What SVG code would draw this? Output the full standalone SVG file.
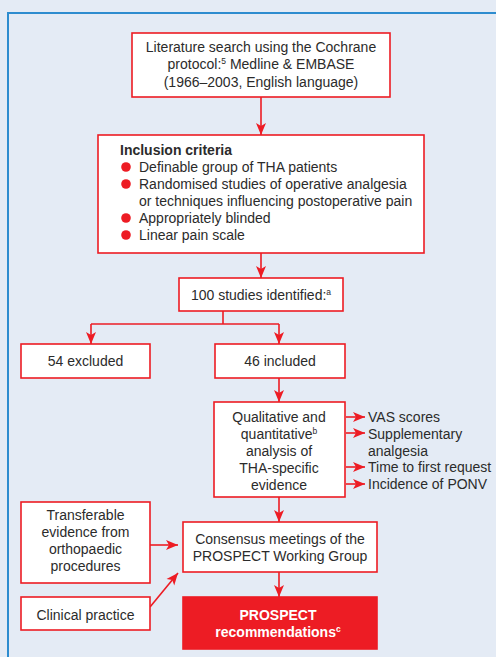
<svg xmlns="http://www.w3.org/2000/svg" width="496" height="657" viewBox="0 0 496 657">
<defs>
<style>
.bg{fill:#e4ebf5}
.frame{fill:none;stroke:#2d8ccf;stroke-width:2}
.box{fill:#ffffff;stroke:#ed1c24;stroke-width:1.6}
.boxr{fill:#ed1c24;stroke:#ed1c24;stroke-width:1.6}
.t{font-family:"Liberation Sans",Arial,sans-serif;font-size:14px;fill:#2b2b2b}
.c{text-anchor:middle}
.b{font-weight:bold}
.w{fill:#ffffff;font-weight:bold}
.sup{font-size:8.5px}
.ln{fill:none;stroke:#ed1c24;stroke-width:1.6}
.dot{fill:#ed1c24}
</style>
<marker id="ah" viewBox="0 0 12 10" refX="12" refY="5" markerWidth="12" markerHeight="11" markerUnits="userSpaceOnUse" orient="auto">
<path d="M0,0 L12,5 L0,10 L3,5 Z" fill="#ed1c24"/>
</marker>
</defs>
<rect class="bg" x="0" y="0" width="496" height="657"/>
<rect class="bg" x="8" y="13" width="490" height="650"/>
<path class="frame" d="M8,658 L8,13 L497,13"/>

<g id="connectors">
<path class="ln" d="M261,97 L261,135" marker-end="url(#ah)"/>
<path class="ln" d="M261,253 L261,278" marker-end="url(#ah)"/>
<path class="ln" d="M223,311 L223,324"/>
<path class="ln" d="M91,324 L279,324"/>
<path class="ln" d="M91,324 L91,344" marker-end="url(#ah)"/>
<path class="ln" d="M279,324 L279,344" marker-end="url(#ah)"/>
<path class="ln" d="M279,378 L279,402" marker-end="url(#ah)"/>
<path class="ln" d="M346,417 L365,417" marker-end="url(#ah)"/>
<path class="ln" d="M346,433 L365,433" marker-end="url(#ah)"/>
<path class="ln" d="M346,467 L365,467" marker-end="url(#ah)"/>
<path class="ln" d="M346,484 L365,484" marker-end="url(#ah)"/>
<path class="ln" d="M279,497 L279,522" marker-end="url(#ah)"/>
<path class="ln" d="M150,545 L178,545" marker-end="url(#ah)"/>
<path class="ln" d="M150,607 L178,573" marker-end="url(#ah)"/>
<path class="ln" d="M279,572 L279,597" marker-end="url(#ah)"/>
</g>

<g id="search">
<rect class="box" x="132" y="33" width="258" height="64"/>
<text class="t c" x="261" y="52">Literature search using the Cochrane</text>
<text class="t c" x="261" y="69">protocol:<tspan class="sup" dy="-5">5</tspan><tspan dy="5"> Medline &amp; EMBASE</tspan></text>
<text class="t c" x="261" y="87">(1966–2003, English language)</text>
</g>

<g id="inclusion">
<rect class="box" x="98" y="135" width="326" height="118"/>
<text class="t b" x="120" y="155">Inclusion criteria</text>
<circle class="dot" cx="126" cy="167" r="4.8"/>
<text class="t" x="139" y="172">Definable group of THA patients</text>
<circle class="dot" cx="126" cy="184" r="4.8"/>
<text class="t" x="139" y="189">Randomised studies of operative analgesia</text>
<text class="t" x="139" y="206">or techniques influencing postoperative pain</text>
<circle class="dot" cx="126" cy="218" r="4.8"/>
<text class="t" x="139" y="223">Appropriately blinded</text>
<circle class="dot" cx="126" cy="235" r="4.8"/>
<text class="t" x="139" y="240">Linear pain scale</text>
</g>

<g id="identified">
<rect class="box" x="179" y="278" width="164" height="33"/>
<text class="t c" x="261" y="300">100 studies identified:<tspan class="sup" dy="-5">a</tspan></text>
</g>

<g id="excluded">
<rect class="box" x="21" y="344" width="129" height="34"/>
<text class="t c" x="85.5" y="366">54 excluded</text>
</g>

<g id="included">
<rect class="box" x="215" y="344" width="130" height="34"/>
<text class="t c" x="280" y="366">46 included</text>
</g>

<g id="analysis">
<rect class="box" x="214" y="402" width="131" height="95"/>
<text class="t c" x="279" y="422">Qualitative and</text>
<text class="t c" x="279" y="439">quantitative<tspan class="sup" dy="-5">b</tspan></text>
<text class="t c" x="279" y="456">analysis of</text>
<text class="t c" x="279" y="473">THA-specific</text>
<text class="t c" x="279" y="490">evidence</text>
</g>

<g id="outcomes">
<text class="t" x="368" y="422">VAS scores</text>
<text class="t" x="368" y="439">Supplementary</text>
<text class="t" x="368" y="456">analgesia</text>
<text class="t" x="368" y="472">Time to first request</text>
<text class="t" x="368" y="489">Incidence of PONV</text>
</g>

<g id="transferable">
<rect class="box" x="21" y="502" width="129" height="81"/>
<text class="t c" x="85.5" y="520">Transferable</text>
<text class="t c" x="85.5" y="537">evidence from</text>
<text class="t c" x="85.5" y="554">orthopaedic</text>
<text class="t c" x="85.5" y="571">procedures</text>
</g>

<g id="consensus">
<rect class="box" x="183" y="522" width="194" height="50"/>
<text class="t c" x="280" y="544">Consensus meetings of the</text>
<text class="t c" x="280" y="561">PROSPECT Working Group</text>
</g>

<g id="clinical">
<rect class="box" x="21" y="597" width="129" height="33"/>
<text class="t c" x="85.5" y="620">Clinical practice</text>
</g>

<g id="recommendations">
<rect class="boxr" x="183" y="597" width="194" height="52"/>
<text class="t c w" x="278" y="620">PROSPECT</text>
<text class="t c w" x="278" y="637">recommendations<tspan class="sup" dy="-5">c</tspan></text>
</g>
</svg>
